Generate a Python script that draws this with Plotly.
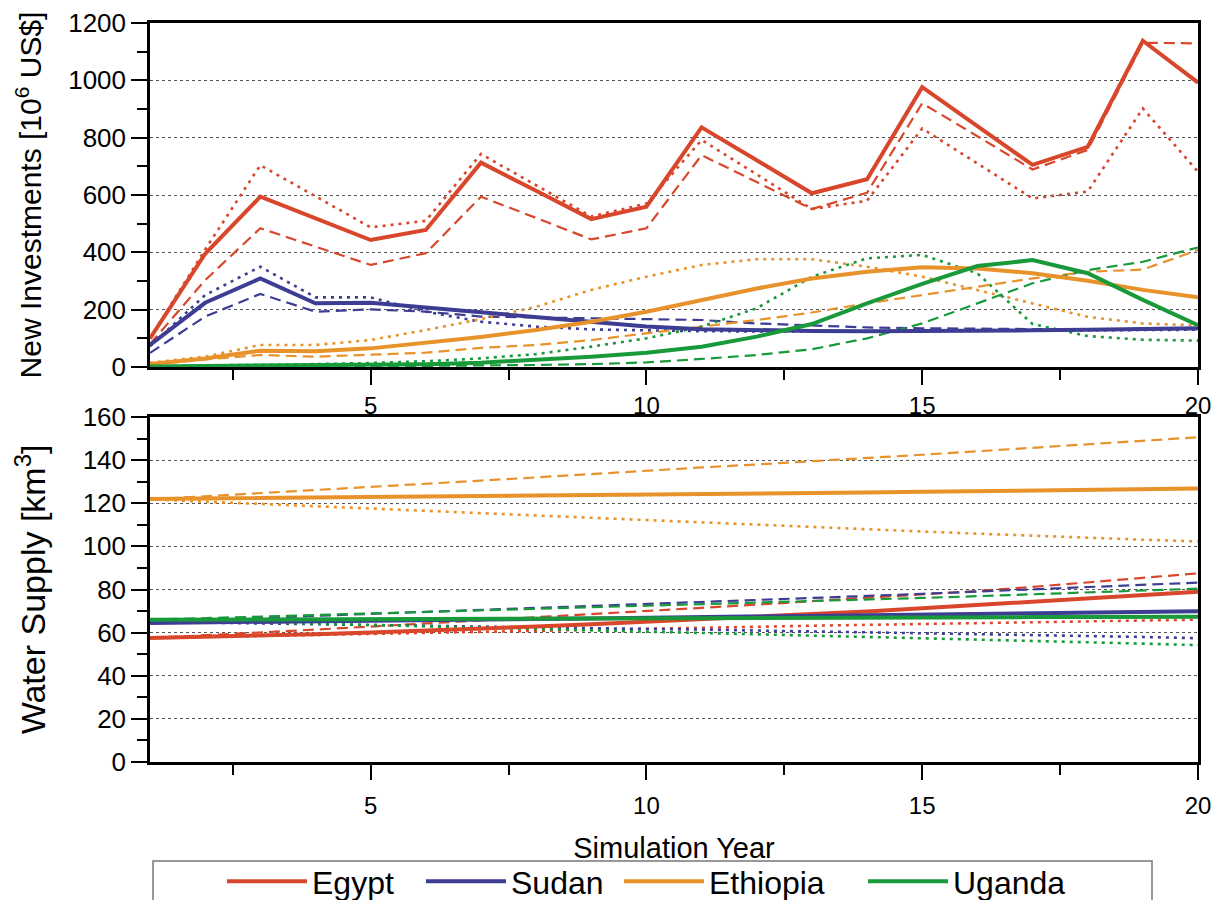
import plotly.graph_objects as go

years = list(range(1, 21))

countries = ["Egypt", "Sudan", "Ethiopia", "Uganda"]
colors = {"Egypt": "#d8472b", "Sudan": "#3d3d94", "Ethiopia": "#e8922c", "Uganda": "#18993a"}

# ---- New investments [10^6 US$] ----
inv_egypt_solid = [100, 395, 594, 518, 443, 478, 713, 615, 516, 559, 836, 721, 606, 655, 976, 840, 705, 768, 1138, 992]
inv_egypt_dash = [80, 303, 484, 420, 356, 397, 594, 520, 445, 484, 739, 645, 551, 608, 920, 805, 689, 757, 1131, 1129]
inv_egypt_dot = [100, 410, 704, 596, 487, 510, 743, 634, 525, 570, 792, 672, 551, 580, 832, 710, 588, 612, 902, 681]

inv_sudan_solid = [77, 224, 309, 222, 224, 207, 192, 175, 155, 141, 132, 128, 126, 125, 125, 126, 128, 130, 132, 135]
inv_sudan_dash = [49, 176, 255, 193, 201, 193, 176, 173, 170, 167, 164, 152, 146, 138, 135, 133, 132, 131, 131, 132]
inv_sudan_dot = [72, 251, 350, 243, 243, 193, 158, 141, 131, 127, 125, 124, 124, 124, 125, 126, 127, 128, 129, 130]

inv_ethiopia_solid = [10, 30, 57, 55, 65, 85, 105, 129, 158, 193, 234, 274, 309, 332, 348, 344, 327, 301, 269, 243]
inv_ethiopia_dash = [10, 27, 42, 36, 42, 50, 67, 77, 94, 117, 141, 164, 190, 222, 251, 280, 309, 332, 340, 408]
inv_ethiopia_dot = [15, 36, 77, 77, 94, 129, 167, 210, 269, 315, 356, 376, 376, 350, 315, 269, 222, 175, 152, 145]

inv_uganda_solid = [2, 3, 4, 5, 7, 10, 15, 24, 36, 50, 71, 106, 150, 222, 290, 352, 373, 327, 234, 146]
inv_uganda_dash = [1, 1, 2, 2, 3, 4, 5, 7, 10, 16, 28, 42, 62, 100, 152, 222, 292, 338, 367, 417]
inv_uganda_dot = [3, 5, 7, 10, 14, 20, 30, 45, 71, 100, 141, 205, 315, 379, 391, 327, 150, 108, 95, 92]

# ---- Water supply [km^3] ----
ws_egypt_solid = [57.5, 58.0, 58.6, 59.3, 60.1, 60.9, 61.8, 62.8, 63.9, 65.0, 66.1, 67.2, 68.4, 69.8, 71.3, 72.8, 74.3, 75.8, 77.3, 78.9]
ws_egypt_dash = [57.5, 58.7, 60.0, 61.4, 62.8, 64.2, 65.6, 67.0, 68.5, 70.0, 71.5, 73.0, 74.5, 76.0, 77.6, 79.3, 81.2, 83.2, 85.3, 87.5]
ws_egypt_dot = [57.5, 58.0, 58.5, 59.0, 59.5, 60.0, 60.5, 61.0, 61.5, 62.0, 62.4, 62.8, 63.2, 63.6, 64.0, 64.4, 64.8, 65.2, 65.6, 66.0]

ws_sudan_solid = [64.5, 64.7, 64.9, 65.1, 65.4, 65.7, 66.0, 66.3, 66.6, 66.9, 67.2, 67.5, 67.8, 68.1, 68.4, 68.7, 69.0, 69.3, 69.6, 69.9]
ws_sudan_dash = [65.0, 65.9, 66.8, 67.7, 68.6, 69.5, 70.4, 71.3, 72.2, 73.1, 74.0, 75.0, 76.0, 77.0, 78.0, 79.0, 80.0, 81.0, 82.1, 83.2]
ws_sudan_dot = [65.0, 64.6, 64.2, 63.8, 63.4, 63.0, 62.6, 62.3, 62.0, 61.7, 61.4, 61.0, 60.6, 60.2, 59.8, 59.4, 59.0, 58.5, 58.0, 57.4]

ws_ethiopia_solid = [122.0, 122.2, 122.4, 122.6, 122.8, 123.0, 123.2, 123.5, 123.7, 124.0, 124.2, 124.5, 124.7, 125.0, 125.3, 125.6, 125.9, 126.2, 126.5, 126.8]
ws_ethiopia_dash = [121.8, 123.2, 124.6, 126.0, 127.5, 129.0, 130.5, 132.0, 133.6, 135.2, 136.6, 138.0, 139.4, 140.9, 142.5, 144.1, 145.7, 147.4, 149.0, 150.6]
ws_ethiopia_dot = [121.8, 120.8, 119.8, 118.7, 117.6, 116.5, 115.4, 114.3, 113.2, 112.1, 111.0, 109.9, 108.9, 107.9, 106.9, 105.9, 104.9, 104.0, 103.1, 102.3]

ws_uganda_solid = [66.0, 66.1, 66.2, 66.3, 66.4, 66.5, 66.6, 66.7, 66.8, 66.8, 66.9, 66.9, 67.0, 67.0, 67.1, 67.1, 67.2, 67.2, 67.3, 67.4]
ws_uganda_dash = [66.0, 66.7, 67.4, 68.1, 68.8, 69.5, 70.2, 70.9, 71.6, 72.3, 73.0, 73.7, 74.5, 75.3, 76.1, 76.9, 77.7, 78.6, 79.5, 80.4]
ws_uganda_dot = [66.0, 65.4, 64.8, 64.2, 63.6, 63.0, 62.4, 61.8, 61.2, 60.6, 60.0, 59.4, 58.8, 58.2, 57.6, 57.0, 56.3, 55.6, 54.9, 54.2]

inv = {
    "Egypt": (inv_egypt_solid, inv_egypt_dash, inv_egypt_dot),
    "Sudan": (inv_sudan_solid, inv_sudan_dash, inv_sudan_dot),
    "Ethiopia": (inv_ethiopia_solid, inv_ethiopia_dash, inv_ethiopia_dot),
    "Uganda": (inv_uganda_solid, inv_uganda_dash, inv_uganda_dot),
}
ws = {
    "Egypt": (ws_egypt_solid, ws_egypt_dash, ws_egypt_dot),
    "Sudan": (ws_sudan_solid, ws_sudan_dash, ws_sudan_dot),
    "Ethiopia": (ws_ethiopia_solid, ws_ethiopia_dash, ws_ethiopia_dot),
    "Uganda": (ws_uganda_solid, ws_uganda_dash, ws_uganda_dot),
}
legend_widths = {"Egypt": 104, "Sudan": 103, "Ethiopia": 149, "Uganda": 112}

FONT = "Liberation Sans, Arial, sans-serif"

fig = go.Figure()

for data, xa, ya in [(inv, "x", "y"), (ws, "x2", "y2")]:
    for c in countries:
        _, dash_v, dot_v = data[c]
        fig.add_trace(go.Scatter(x=years, y=dash_v, xaxis=xa, yaxis=ya, mode="lines",
                                 line=dict(color=colors[c], width=2.2, dash="11px,6px"),
                                 showlegend=False, hoverinfo="skip"))
        fig.add_trace(go.Scatter(x=years, y=dot_v, xaxis=xa, yaxis=ya, mode="lines",
                                 line=dict(color=colors[c], width=2.6, dash="3px,5px"),
                                 showlegend=False, hoverinfo="skip"))
    for c in countries:
        solid_v = data[c][0]
        fig.add_trace(go.Scatter(x=years, y=solid_v, xaxis=xa, yaxis=ya, mode="lines",
                                 name=c, legendgroup=c, legendwidth=legend_widths[c],
                                 line=dict(color=colors[c], width=4),
                                 showlegend=(xa == "x")))

# The page body adds an 8px offset; the figure is sized so that it fills the 1222x900 window.
OFF = 8
W, H = 1222 - OFF, 900 - OFF
ml, mr, mt, mb = 150 - OFF, 24, 23 - OFF, 138
ph = H - mt - mb
pw = W - ml - mr


def py(v):  # viewport y pixel -> paper fraction
    return (H - mb - (v - OFF)) / ph


def pxx(v):  # viewport x pixel -> paper fraction
    return ((v - OFF) - ml) / pw


def xaxis_style(standoff):
    return dict(range=[1, 20], tick0=0, dtick=5, ticks="outside", ticklen=15, tickwidth=2,
                tickcolor="black", showline=True, linewidth=2.5, linecolor="black", mirror=True,
                showgrid=False, zeroline=False, automargin=False,
                tickfont=dict(family=FONT, size=24, color="black"), ticklabelstandoff=standoff,
                minor=dict(dtick=2.5, tick0=0, ticks="outside", ticklen=10, tickwidth=2,
                           tickcolor="black", showgrid=False))


ycommon = dict(ticks="outside", ticklen=16, tickwidth=2, tickcolor="black",
               showline=True, linewidth=2.5, linecolor="black", mirror=True,
               showgrid=True, gridcolor="#555555", griddash="dot", gridwidth=1.4,
               zeroline=False, automargin=False,
               tickfont=dict(family=FONT, size=26, color="black"))

fig.update_layout(
    width=W, height=H,
    margin=dict(l=ml, r=mr, t=mt, b=mb, autoexpand=False),
    paper_bgcolor="white", plot_bgcolor="white",
    font=dict(family=FONT, color="black"),
    xaxis=dict(**xaxis_style(0), anchor="y", domain=[0, 1]),
    xaxis2=dict(**xaxis_style(5), anchor="y2", domain=[0, 1],
                title=dict(text="Simulation Year", font=dict(family=FONT, size=29), standoff=21)),
    yaxis=dict(**ycommon, domain=[py(367), 1], range=[0, 1200], dtick=200,
               minor=dict(dtick=100, ticks="outside", ticklen=10, tickwidth=2, tickcolor="black", showgrid=False),
               title=dict(text="New Investments [10<sup>6</sup> US$]", font=dict(family=FONT, size=30), standoff=18)),
    yaxis2=dict(**ycommon, domain=[0, py(417)], range=[0, 160], dtick=20,
                minor=dict(dtick=10, ticks="outside", ticklen=10, tickwidth=2, tickcolor="black", showgrid=False),
                title=dict(text="Water Supply [km<sup>3</sup>]", font=dict(family=FONT, size=34), standoff=27)),
    legend=dict(orientation="h", x=pxx(222), xanchor="left", y=py(854), yanchor="top",
                font=dict(family=FONT, size=32, color="black"),
                itemwidth=80, bgcolor="rgba(0,0,0,0)", borderwidth=0, traceorder="normal"),
    shapes=[dict(type="rect", xref="paper", yref="paper",
                 x0=pxx(153), x1=pxx(1152), y0=py(861), y1=py(915),
                 line=dict(color="#777777", width=1.5), fillcolor="rgba(0,0,0,0)")],
)

fig.write_html("out.html")
